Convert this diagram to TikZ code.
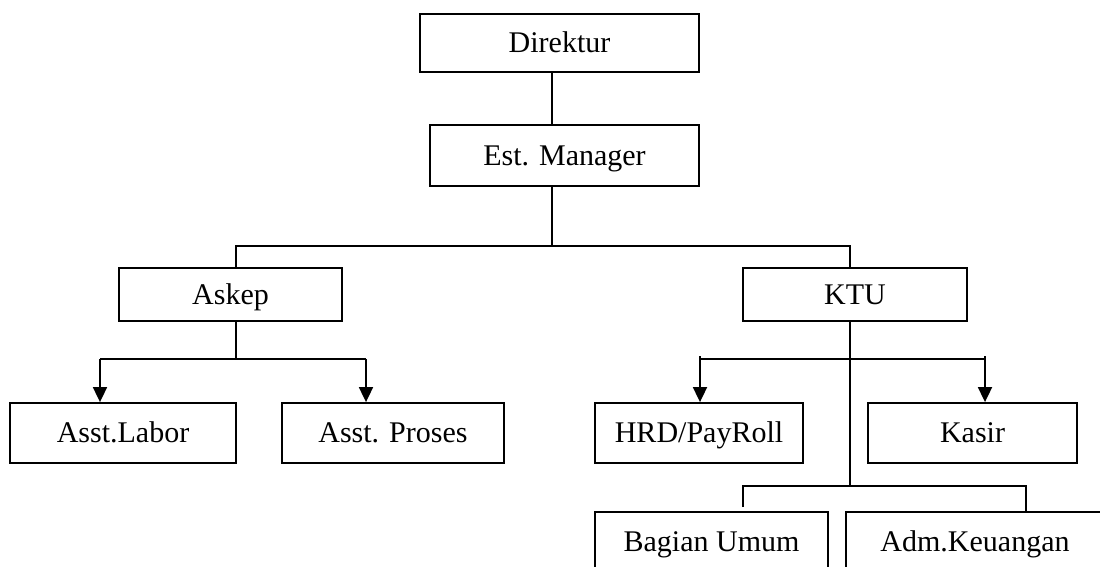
\documentclass[tikz,border=0pt]{standalone}
\usepackage{fontspec}
\setmainfont{Liberation Serif}
\usetikzlibrary{arrows.meta,calc}
\begin{document}
\begin{tikzpicture}[x=1pt,y=-1pt,
  box/.style={draw=black,line width=1.8pt,fill=white,inner sep=0pt,
    font=\fontsize{30}{36}\selectfont,text height=19pt,text depth=0pt},
  conn/.style={draw=black,line width=1.8pt},
  arr/.style={conn,-{Triangle[width=14pt,length=15pt]}}]
\useasboundingbox (0,0) rectangle (1100,567);
\clip (0,0) rectangle (1100,567);
\fill[white] (0,0) rectangle (1100,567);
% boxes
\node[box,minimum width=279pt,minimum height=58pt] (dir) at (559.5,43) {Direktur};
\node[box,minimum width=269pt,minimum height=61pt] (mgr) at (564.5,155.5) {Est. Manager};
\node[box,minimum width=223pt,minimum height=53pt] (askep) at (230.5,294.5) {Askep};
\node[box,minimum width=224pt,minimum height=53pt] (ktu) at (855,294.5) {KTU};
\node[box,minimum width=226pt,minimum height=60pt] (labor) at (123,433) {Asst.Labor};
\node[box,minimum width=222pt,minimum height=60pt] (proses) at (393,433) {Asst. Proses};
\node[box,minimum width=208pt,minimum height=60pt] (hrd) at (699,433) {HRD/PayRoll};
\node[box,minimum width=209pt,minimum height=60pt] (kasir) at (972.5,433) {Kasir};
\node[box,minimum width=233pt,minimum height=60pt] (umum) at (711.5,542) {Bagian Umum};
\node[box,minimum width=258pt,minimum height=60pt] (adm) at (975,542) {Adm.Keuangan};
% junction coordinates
\coordinate (j0) at (552,246);
\coordinate (tA) at (236,246);
\coordinate (tK) at (850,246);
\coordinate (bA) at (236,359);
\coordinate (bL) at (100,359);
\coordinate (bR) at (366,359);
\coordinate (bH) at (700,356);
\coordinate (bK) at (985,356);
\coordinate (hH) at (700,359);
\coordinate (hK) at (985,359);
\coordinate (tB) at (850,486);
\coordinate (u1) at (743,486);
\coordinate (u2) at (1026,486);
\coordinate (u1e) at (743,507);
% connectors
\draw[conn] (dir.south -| j0) -- (mgr.north -| j0);
\draw[conn] (mgr.south -| j0) -- (j0);
\draw[conn] (askep.north -| tA) -- (tA) -- (tK) -- (ktu.north -| tK);
\draw[conn] (askep.south -| bA) -- (bA);
\draw[conn] (bL) -- (bR);
\draw[arr] (bL) -- (labor.north -| bL);
\draw[arr] (bR) -- (proses.north -| bR);
\draw[conn] (ktu.south -| tK) -- (tB);
\draw[conn] (hH) -- (hK);
\draw[arr] (bH) -- (hrd.north -| bH);
\draw[arr] (bK) -- (kasir.north -| bK);
\draw[conn] (u1e) -- (u1) -- (u2) -- (adm.north -| u2);
\end{tikzpicture}
\end{document}
